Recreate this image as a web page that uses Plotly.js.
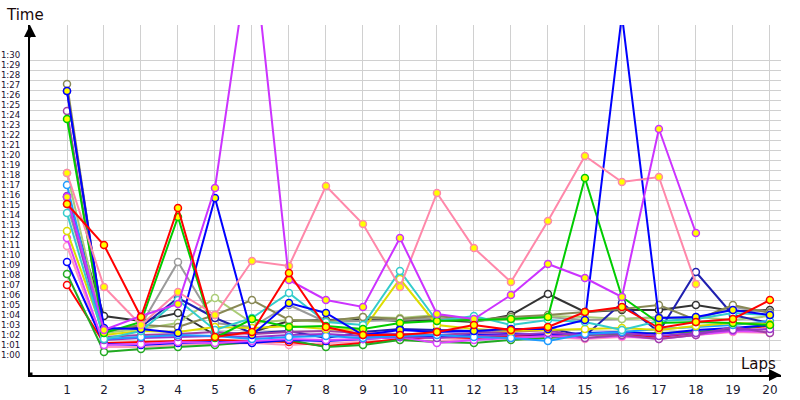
<!DOCTYPE html>
<html>
<head>
<meta charset="utf-8">
<script src="https://cdn.plot.ly/plotly-3.0.1.min.js"></script>
<style>html,body{margin:0;padding:0;background:#fff}#chart{width:800px;height:400px}</style>
</head>
<body>
<div id="chart"></div>
<script>
// ---- data (lap times in seconds) ----
const laps = [1,2,3,4,5,6,7,8,9,10,11,12,13,14,15,16,17,18,19,20];
const yTickVals = [60,61,62,63,64,65,66,67,68,69,70,71,72,73,74,75,76,77,78,79,80,81,82,83,84,85,86,87,88,89,90];
const yTickText = ['1:00','1:01','1:02','1:03','1:04','1:05','1:06','1:07','1:08','1:09','1:10','1:11','1:12','1:13','1:14','1:15','1:16','1:17','1:18','1:19','1:20','1:21','1:22','1:23','1:24','1:25','1:26','1:27','1:28','1:29','1:30'];
const xTitle = 'Laps';
const yTitle = 'Time';

const pinkLight = [70.9,60.8,60.8,61.0,61.1,61.2,61.0,61.2,61.3,61.5,61.4,61.6,61.7,61.8,61.6,61.8,61.7,62.0,62.3,62.2];
const redB      = [67.0,61.2,61.3,61.4,61.5,61.4,61.3,60.9,61.2,61.6,61.8,61.7,61.9,62.0,62.1,62.0,61.8,62.2,62.6,62.9];
const greenB    = [68.1,60.3,60.6,60.8,61.0,61.3,61.5,60.8,61.0,61.5,61.3,61.2,61.5,61.7,62.0,62.1,62.2,62.3,62.6,63.0];
const blueB     = [69.3,61.1,61.0,61.2,61.3,61.2,61.5,61.4,61.6,61.8,61.9,62.0,62.1,62.0,62.2,62.3,62.1,62.5,62.7,63.0];
const magenta   = [71.7,61.0,61.1,61.3,61.2,61.4,61.6,61.5,61.6,61.8,61.2,61.5,61.7,61.9,61.7,61.9,61.6,62.0,62.4,62.3];
const violet    = [84.4,61.8,62.0,62.1,62.3,62.1,62.3,62.4,62.2,62.1,62.0,62.2,62.3,62.5,61.7,62.0,61.6,62.0,62.8,62.2];
const violet2   = [75.9,61.5,61.7,61.8,61.9,61.8,62.0,62.1,61.9,61.8,61.7,61.9,62.0,62.2,62.0,62.2,61.9,62.2,62.5,62.6];
const dodger    = [77.0,61.6,61.8,62.0,61.9,61.6,61.8,61.9,61.7,61.9,62.0,61.8,61.7,61.4,62.1,62.3,62.6,62.8,63.0,63.4];
const yellowS   = [72.4,62.0,62.4,62.3,62.8,62.7,62.9,62.6,62.5,67.6,63.0,62.6,62.4,62.5,62.6,62.7,62.5,62.9,63.2,63.1];
const lightOlive= [78.2,62.2,62.6,63.2,65.7,63.2,63.5,63.3,63.8,63.7,64.0,63.6,63.5,63.9,63.8,63.6,63.7,63.8,63.5,63.9];
const olive     = [87.1,62.3,63.0,62.8,64.0,65.5,63.5,63.4,63.8,63.6,63.9,63.5,63.8,64.0,64.3,64.6,65.0,63.5,65.0,64.2];
const gray      = [75.1,62.4,63.0,69.3,63.2,62.8,65.0,63.3,63.4,63.5,63.7,63.4,63.6,63.8,63.5,63.6,63.8,63.5,64.8,64.3];
const black     = [75.8,63.9,63.4,64.2,62.0,62.3,63.4,63.5,63.6,63.4,63.5,63.3,64.0,66.1,64.3,64.5,64.5,65.0,64.4,64.5];
const cyan      = [74.2,61.6,62.4,65.5,62.5,63.7,66.2,63.3,63.0,68.4,63.4,63.9,63.0,63.5,63.3,62.5,63.4,63.6,64.2,64.0];
const navy      = [86.4,62.5,62.8,65.7,63.7,62.2,62.4,61.7,62.3,62.6,62.5,62.4,62.5,62.7,61.9,65.2,62.3,68.3,64.0,63.2];
const greenA    = [83.6,62.2,63.3,73.8,61.7,63.6,62.8,62.9,62.6,63.2,63.4,63.5,63.6,63.8,77.7,65.8,63.2,63.3,63.2,63.0];
const blueA     = [86.4,62.7,62.6,62.2,75.7,62.0,65.2,64.2,62.0,62.5,62.3,62.4,62.6,62.6,63.5,94.0,63.7,63.8,64.5,64.0];
const pink      = [78.2,66.8,63.0,66.3,64.0,69.4,68.9,76.9,73.1,66.8,76.2,70.7,67.3,73.4,79.9,77.3,77.8,67.1,null,null];
const purple    = [75.8,62.5,63.9,65.1,76.7,102.0,67.5,65.5,64.8,71.7,64.1,63.6,66.0,69.1,67.7,65.8,82.6,72.2,null,null];
const redA      = [75.1,71.0,63.8,74.7,61.8,62.3,68.2,62.8,62.0,62.0,62.3,63.0,62.5,62.8,64.3,64.8,62.7,63.3,63.6,65.5];

// ---- styling ----
const YEL = '#ffff00', WH = '#ffffff';
const series = [
  [black,'#333333',WH],[gray,'#9a9a9a',WH],[lightOlive,'#aacc77',WH],[navy,'#2020b0',WH],
  [pinkLight,'#ff99c0',WH],[redB,'#ff0000',WH],[greenB,'#22aa22',WH],[blueB,'#0000ff',WH],
  [magenta,'#dd44ff',WH],[violet,'#a040a8',WH],[violet2,'#9933cc',WH],[dodger,'#1e9bff',WH],[yellowS,'#dddd00',WH],
  [olive,'#888855',WH],[cyan,'#33cccc',WH],[greenA,'#00cc00',YEL],[blueA,'#0000ff',YEL],
  [pink,'#ff88aa',YEL],[purple,'#cc33ff',YEL],[redA,'#ff0000',YEL]
];
const traces = series.map(([vals,color,fill]) => ({
  type:'scatter', mode:'lines+markers', x:laps, y:vals,
  line:{color:color,width:2}, connectgaps:false,
  marker:{size:7,color:fill,line:{color:color,width:1.5}},
  hoverinfo:'skip', showlegend:false
}));

const minorGrid = [];
for (let v = 59.5; v <= 89.5; v += 1) minorGrid.push(v);

const layout = {
  width:800, height:400,
  margin:{l:30,r:19,t:25,b:25},
  paper_bgcolor:'#ffffff', plot_bgcolor:'#ffffff',
  font:{family:'DejaVu Sans, Verdana, sans-serif',color:'#1a1a40'},
  xaxis:{range:[0,20.3],tickmode:'array',tickvals:laps,ticktext:laps.map(String),
    showgrid:true,gridcolor:'#d0d0d0',gridwidth:1,zeroline:false,
    showline:true,linecolor:'#000000',linewidth:2,
    ticks:'outside',ticklen:3,tickcolor:'rgba(0,0,0,0)',
    tickfont:{size:12,color:'#1a1a30',family:'DejaVu Sans, sans-serif'},fixedrange:true},
  yaxis:{range:[58,93],tickmode:'array',tickvals:yTickVals,ticktext:yTickText,
    showgrid:false,zeroline:false,
    minor:{tickmode:'array',tickvals:minorGrid,showgrid:true,gridcolor:'#d0d0d0',gridwidth:1,ticks:''},
    showline:true,linecolor:'#000000',linewidth:2,
    ticks:'outside',ticklen:6,tickcolor:'rgba(0,0,0,0)',
    tickfont:{size:9.5,color:'#201030',family:'DejaVu Sans Condensed, DejaVu Sans, sans-serif'},fixedrange:true},
  annotations:[
    {xref:'x',yref:'paper',x:0,y:1,ax:0,ay:14,text:'',showarrow:true,arrowhead:2,arrowsize:1.2,arrowwidth:2,arrowcolor:'#000',standoff:0},
    {xref:'x',yref:'paper',x:20.3,y:0,ax:-14,ay:0,text:'',showarrow:true,arrowhead:2,arrowsize:1.2,arrowwidth:2,arrowcolor:'#000',standoff:0},
    {xref:'x',yref:'paper',x:0,y:1,xshift:-5,yshift:10,xanchor:'center',yanchor:'middle',text:yTitle,showarrow:false,
      font:{size:15,color:'#1a0a0a',family:'DejaVu Sans, sans-serif'}},
    {xref:'x',yref:'paper',x:19.7,y:0,yshift:11,xanchor:'center',yanchor:'middle',text:xTitle,showarrow:false,
      font:{size:15,color:'#1a0a0a',family:'DejaVu Sans, sans-serif'}}
  ],
  shapes:[
    {type:'rect',xref:'x',yref:'y',xsizemode:'pixel',ysizemode:'pixel',xanchor:0,yanchor:58,x0:-2.5,x1:2.5,y0:-2.5,y1:2.5,fillcolor:'#000',line:{width:0}}
  ]
};

Plotly.newPlot('chart', traces, layout, {staticPlot:true,displayModeBar:false});
</script>
</body>
</html>
